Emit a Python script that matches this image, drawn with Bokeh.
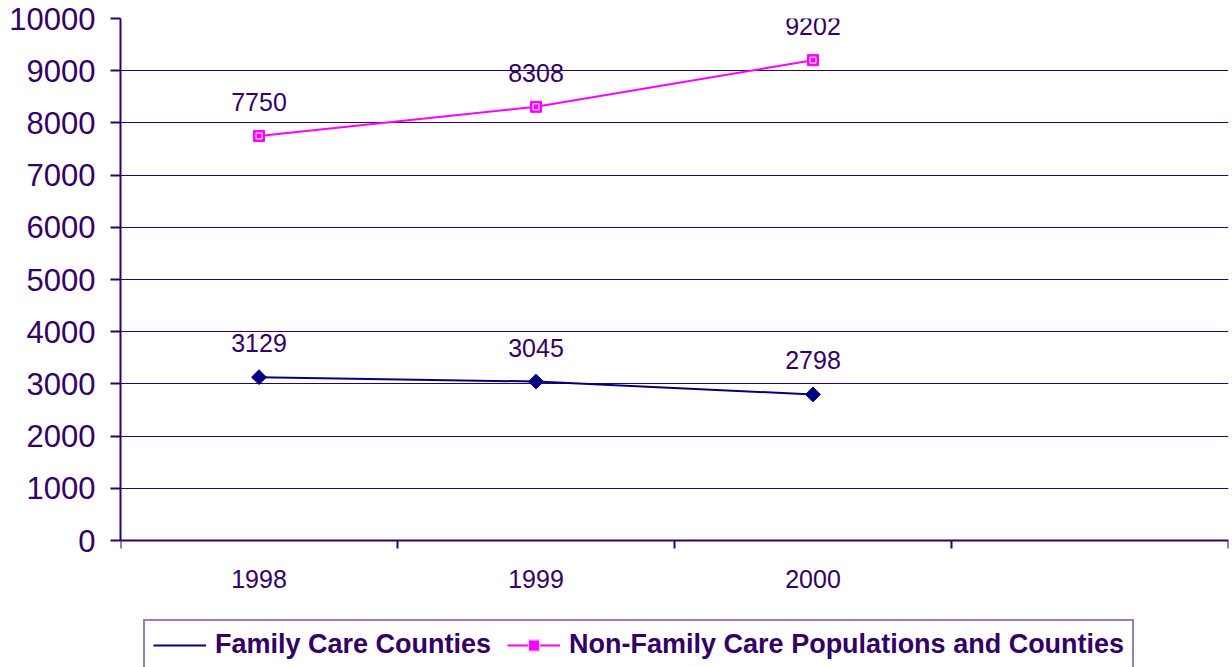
import math
from bokeh.plotting import figure
from bokeh.models import (ColumnDataSource, FixedTicker, Grid, Legend,
                          LegendItem, LinearAxis, Range1d)
from bokeh.embed import file_html
from bokeh.resources import INLINE

# ---- data -------------------------------------------------------------
years = ["1998", "1999", "2000"]
family_care = [3129, 3045, 2798]
non_family_care = [7750, 8308, 9202]
y_ticks = [0, 1000, 2000, 3000, 4000, 5000, 6000, 7000, 8000, 9000, 10000]
n_slots = 4  # category slots on the x axis (last one left empty)

TEXT = "#330066"
NAVY = "#000080"
MAGENTA = "#FF00FF"
FONT = "Liberation Sans"

# ---- layout -----------------------------------------------------------
# the value axis spans 522 px; the frame runs on below it to hold the legend
AXIS_PX = 522
FRAME_PX = 649
y_max = y_ticks[-1]
y_min = -y_max * (FRAME_PX - AXIS_PX) / AXIS_PX

# category centres on a numeric axis
xs = [i + 0.5 for i in range(len(years))]

src_fc = ColumnDataSource(dict(x=xs, y=family_care,
                               lbl=[str(v) for v in family_care]))
src_nf = ColumnDataSource(dict(x=xs, y=non_family_care,
                               lbl=[str(v) for v in non_family_care]))

p = figure(frame_width=1108, frame_height=FRAME_PX,
           output_backend="svg", toolbar_location=None,
           x_range=Range1d(0, n_slots), y_range=Range1d(y_min, y_max),
           min_border_left=120, min_border_right=4, min_border_top=18,
           min_border_bottom=0, x_axis_type=None, y_axis_type=None)
p.outline_line_color = None
p.background_fill_color = "white"
p.border_fill_color = "white"

# horizontal grid lines (none along the top edge)
p.add_layout(Grid(dimension=1, ticker=FixedTicker(ticks=y_ticks[1:-1]),
                  grid_line_color=TEXT, grid_line_width=1))

# y axis, drawn only over the value range
yaxis = LinearAxis(ticker=FixedTicker(ticks=y_ticks), bounds=(0, y_max))
yaxis.axis_line_color = TEXT
yaxis.axis_line_width = 2
yaxis.major_tick_line_color = TEXT
yaxis.major_tick_line_width = 2
yaxis.major_tick_in = 0
yaxis.major_tick_out = 10
yaxis.minor_tick_line_color = None
yaxis.major_label_standoff = 15
yaxis.major_label_text_font = FONT
yaxis.major_label_text_font_size = "31px"
yaxis.major_label_text_color = TEXT
p.add_layout(yaxis, "left")

# x axis pinned at zero: labels at slot centres, tick marks at slot edges
xaxis = LinearAxis(ticker=FixedTicker(ticks=xs,
                                      minor_ticks=list(range(n_slots + 1))),
                   fixed_location=0)
xaxis.major_label_overrides = {x: y for x, y in zip(xs, years)}
xaxis.axis_line_color = TEXT
xaxis.axis_line_width = 2
xaxis.major_tick_line_color = None
xaxis.major_tick_in = 0
xaxis.major_tick_out = 0
xaxis.minor_tick_line_color = TEXT
xaxis.minor_tick_line_width = 2
xaxis.minor_tick_in = 0
xaxis.minor_tick_out = 8
xaxis.major_label_standoff = 21
xaxis.major_label_text_font = FONT
xaxis.major_label_text_font_size = "25px"
xaxis.major_label_text_color = TEXT
p.add_layout(xaxis, "below")

# series
l1 = p.line("x", "y", source=src_fc, line_color=NAVY, line_width=2)
m1 = p.scatter("x", "y", source=src_fc, marker="square", angle=math.pi / 4,
               size=10.5, fill_color=NAVY, line_color=NAVY)
l2 = p.line("x", "y", source=src_nf, line_color=MAGENTA, line_width=2)
m2 = p.scatter("x", "y", source=src_nf, marker="square", size=11,
               fill_color=MAGENTA, line_color=MAGENTA)
m2b = p.scatter("x", "y", source=src_nf, marker="square", size=6,
                fill_color=None, line_color="white", line_width=1)

# legend swatch for the diamond marker
key_src = ColumnDataSource(dict(x=[], y=[]))
k1 = p.scatter("x", "y", source=key_src, marker="diamond", size=17,
               fill_color=NAVY, line_color=NAVY)

# value labels
for src in (src_fc, src_nf):
    p.text("x", "y", text="lbl", source=src, text_align="center",
           text_baseline="middle", y_offset=-34, text_font_size="25px",
           text_font={"value": FONT}, text_color=TEXT)

legend = Legend(items=[
    LegendItem(label="Family Care Counties", renderers=[l1, k1]),
    LegendItem(label="Non-Family Care Populations and Counties",
               renderers=[l2, m2, m2b]),
], orientation="horizontal", location=(23, -3))
legend.label_text_font = FONT
legend.label_text_font_style = "bold"
legend.label_text_font_size = "27px"
legend.label_text_color = TEXT
legend.glyph_width = 53
legend.glyph_height = 28
legend.label_standoff = 9
legend.spacing = 16
legend.padding = 8
legend.margin = 0
legend.border_line_color = TEXT
legend.border_line_width = 2
legend.background_fill_color = "white"
legend.background_fill_alpha = 1
p.add_layout(legend, "center")

open("out.html", "w").write(file_html(p, INLINE))
